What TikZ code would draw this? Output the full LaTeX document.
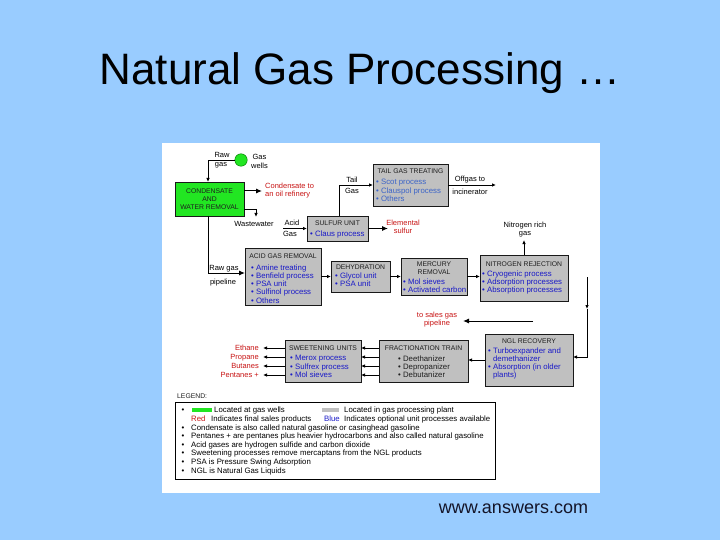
\documentclass[tikz,border=0pt]{standalone}
\usepackage{fontspec}
\setmainfont{Liberation Sans}
\usetikzlibrary{arrows.meta}
\definecolor{slidebg}{RGB}{153,204,255}
\definecolor{boxgray}{RGB}{192,192,192}
\definecolor{wellgreen}{RGB}{34,230,34}
\definecolor{prodred}{RGB}{200,20,20}
\definecolor{optblue}{RGB}{25,25,200}
\definecolor{lightblue}{RGB}{60,100,200}
\definecolor{titlegray}{RGB}{30,30,30}
\newcommand\itemfont{\fontsize{7.8}{8.3}\selectfont}
\newcommand\lblfont{\fontsize{7.5}{8.6}\selectfont}
\newcommand\boxtitlefont{\fontsize{6.8}{8}\selectfont}
\begin{document}
\begin{tikzpicture}[x=1pt,y=-1pt,
 box/.style={draw=black!90, fill=boxgray, line width=0.8pt, inner sep=0pt, outer sep=0pt},
 btitle/.style={font=\boxtitlefont, text=titlegray, inner sep=0pt, align=center},
 bitems/.style={font=\itemfont, text=optblue, inner sep=0pt, align=left, anchor=north west},
 lbl/.style={font=\lblfont, inner sep=0pt, align=center},
 redlbl/.style={lbl, text=prodred},
 leg/.style={font=\itemfont, inner sep=0pt, anchor=west, text height=5.5pt, text depth=1.5pt},
 conn/.style={line width=0.8pt, -{Latex[length=4pt,width=3.5pt]}},
 bigarr/.style={line width=1pt, -{Latex[length=6pt,width=5pt]}},
]
\useasboundingbox (0,0) rectangle (720,540);
\fill[slidebg] (0,0) rectangle (720,540);
\fill[white] (162,143) rectangle (600,493);

\node[font=\fontsize{44}{50}\selectfont, anchor=base, inner sep=0pt] (title) at (360,85) {Natural Gas Processing …};
\node[font=\fontsize{18}{20}\selectfont, anchor=base, inner sep=0pt, text={rgb,255:red,20;green,20;blue,40}] (src) at (513.5,513) {www.answers.com};

% wells
\node[circle, fill=wellgreen, draw=green!45!black, line width=0.4pt, minimum size=12.5pt, inner sep=0pt] (wells) at (241,160) {};
\node[lbl] (rawlbl) at (222,155) {Raw};
\node[lbl] (raw2lbl) at (221,165.5) {gas};
\node[lbl] (wellslbl) at (259.5,161.5) {Gas\\wells};

% boxes
\node[box, fill=wellgreen, minimum width=69pt, minimum height=34pt] (cwr) at (209.5,199) {};
\node[btitle] (cwrt) at (209.5,199) {CONDENSATE\\AND\\WATER REMOVAL};

\node[box, minimum width=75pt, minimum height=42pt] (tgt) at (410.5,185) {};
\node[btitle] (tgtt) at (410.5,171) {TAIL GAS TREATING};
\node[bitems, text=lightblue] (tgti) at (376,179.2) {• Scot process\\• Clauspol process\\• Others};

\node[box, minimum width=61pt, minimum height=25pt] (sru) at (337.5,228.5) {};
\node[btitle] (srut) at (337.5,223.5) {SULFUR UNIT};
\node[bitems] (srui) at (310,230.2) {• Claus process};

\node[box, minimum width=76pt, minimum height=57pt] (agr) at (283,276.5) {};
\node[btitle] (agrt) at (283,256) {ACID GAS REMOVAL};
\node[bitems] (agri) at (251,264.2) {• Amine treating\\• Benfield process\\• PSA unit\\• Sulfinol process\\• Others};

\node[box, minimum width=59pt, minimum height=31pt] (dehy) at (360.5,276.5) {};
\node[btitle] (dehyt) at (360.5,267) {DEHYDRATION};
\node[bitems] (dehyi) at (335,272.2) {• Glycol unit\\• PSA unit};

\node[box, minimum width=66pt, minimum height=37pt] (merc) at (434,276.5) {};
\node[btitle] (merct) at (434,268) {MERCURY\\REMOVAL};
\node[bitems] (merci) at (403,278.2) {• Mol sieves\\• Activated carbon};

\node[box, minimum width=88pt, minimum height=46pt] (nru) at (524,278) {};
\node[btitle] (nrut) at (524,264) {NITROGEN REJECTION};
\node[bitems] (nrui) at (482,270.2) {• Cryogenic process\\• Adsorption processes\\• Absorption processes};

\node[box, minimum width=88pt, minimum height=52pt] (ngl) at (529,360) {};
\node[btitle] (nglt) at (529,341) {NGL RECOVERY};
\node[bitems] (ngli) at (488,347.2) {• Turboexpander and\\\phantom{• }demethanizer\\• Absorption (in older\\\phantom{• }plants)};

\node[box, minimum width=89pt, minimum height=42pt] (frac) at (423.5,361) {};
\node[btitle] (fract) at (423.5,348) {FRACTIONATION TRAIN};
\node[bitems, text=titlegray] (fraci) at (398,355.2) {• Deethanizer\\• Depropanizer\\• Debutanizer};

\node[box, minimum width=76pt, minimum height=42pt] (sweet) at (323,361) {};
\node[btitle] (sweett) at (323,348) {SWEETENING UNITS};
\node[bitems] (sweeti) at (290,355.2) {• Merox process\\• Sulfrex process\\• Mol sieves};

% connectors
\coordinate (wcorner) at (208,160);
\draw[conn] (wells.west) -- (wcorner) -- (wcorner |- cwr.north);

\coordinate (condtip) at (262,191);
\draw[bigarr] (cwr.east |- condtip) -- (condtip);
\node[redlbl, anchor=west, align=left] (condlbl) at (265,190.5) {Condensate to\\an oil refinery};

\coordinate (wwcorner) at (256,209);
\coordinate (wwtip) at (256,217);
\draw[conn] (cwr.east |- wwcorner) -- (wwcorner) -- (wwtip);
\node[lbl] (wwlbl) at (254,224) {Wastewater};

\coordinate (rawcorner) at (208,273);
\draw[bigarr] (cwr.south -| rawcorner) -- (rawcorner) -- (agr.west |- rawcorner);
\node[lbl] (rp1) at (224,268.5) {Raw gas};
\node[lbl] (rp2) at (223,282.5) {pipeline};

\draw[conn] (agr.east) -- (dehy.west);
\draw[conn] (dehy.east) -- (merc.west);
\draw[conn] (merc.east) -- (merc.east -| nru.west);

\coordinate (n2tip) at (524,240);
\draw[conn] (nru.north) -- (n2tip);
\node[lbl] (n2lbl) at (525,229.5) {Nitrogen rich\\gas};

\coordinate (rtop) at (587,277);
\coordinate (rmid) at (587,309);
\coordinate (rbot) at (587,357);
\draw[conn] (rtop) -- (rmid);
\draw[conn] (rmid) -- (rbot) -- (ngl.east |- rbot);

\coordinate (salesstart) at (533,321);
\coordinate (salestip) at (463,321);
\draw[bigarr] (salesstart) -- (salestip);
\node[redlbl] (saleslbl) at (437,319.5) {to sales gas\\pipeline};

\draw[conn] (ngl.west) -- (ngl.west -| frac.east);

\foreach \yy/\nm/\tx in {348/e/Ethane,357/p/Propane,366/b/Butanes,375/n/Pentanes +}{
  \coordinate (fy\nm) at (400,\yy);
  \coordinate (ly\nm) at (263,\yy);
  \draw[conn] (frac.west |- fy\nm) -- (sweet.east |- fy\nm);
  \draw[conn] (sweet.west |- fy\nm) -- (ly\nm);
  \node[redlbl, anchor=east, text height=5.5pt, text depth=1.5pt] (prod\nm) at (259,\yy) {\tx};
}

\coordinate (acidstart) at (283,228.5);
\draw[conn] (acidstart) -- (sru.west |- acidstart);
\node[lbl] (acidlbl) at (292,222.5) {Acid};
\node[lbl] (acidlbl2) at (290,233.5) {Gas};

\coordinate (sulftip) at (388,228.5);
\draw[bigarr] (sru.east) -- (sulftip);
\node[redlbl] (sulflbl) at (403,227) {Elemental\\sulfur};

\coordinate (tailcorner) at (339,185);
\draw[conn] (sru.north -| tailcorner) -- (tailcorner) -- (tgt.west |- tailcorner);
\node[lbl] (taillbl) at (352,180) {Tail};
\node[lbl] (taillbl2) at (352,190.5) {Gas};

\coordinate (offtip) at (496,185);
\draw[conn] (tgt.east |- offtip) -- (offtip);
\node[lbl] (offlbl) at (470,179.5) {Offgas to};
\node[lbl] (offlbl2) at (470,191.5) {incinerator};

% legend
\node[font=\boxtitlefont, anchor=west, inner sep=0pt, text=titlegray] (legtitle) at (177,396) {LEGEND:};
\node[draw=black, line width=0.9pt, fill=white, minimum width=320pt, minimum height=77pt, inner sep=0pt] (legend) at (335,440.5) {};
\node[leg, anchor=center] (lb1) at (183,410) {•};
\node[fill=wellgreen, minimum width=20pt, minimum height=4pt, inner sep=0pt] (swg) at (202,410) {};
\node[leg] (lg1) at (214,410) {Located at gas wells};
\node[fill=boxgray, minimum width=17pt, minimum height=4pt, inner sep=0pt] (swy) at (330.5,410) {};
\node[leg] (lg2) at (344,410) {Located in gas processing plant};
\node[leg, text=prodred] (lred) at (191,419) {Red};
\node[leg] (lg3) at (211,419) {Indicates final sales products};
\node[leg, text=optblue] (lblue) at (324,419) {Blue};
\node[leg] (lg4) at (344,419) {Indicates optional unit processes available};
\foreach \yy/\nm/\tx in {428/a/Condensate is also called natural gasoline or casinghead gasoline,
  436.5/b/Pentanes + are pentanes plus heavier hydrocarbons and also called natural gasoline,
  445/c/Acid gases are hydrogen sulfide and carbon dioxide,
  453.5/d/Sweetening processes remove mercaptans from the NGL products,
  462/e/PSA is Pressure Swing Adsorption,
  471/f/NGL is Natural Gas Liquids}{
  \node[leg, anchor=center] (lbul\nm) at (183,\yy) {•};
  \node[leg] (ltxt\nm) at (191,\yy) {\tx};
}
\end{tikzpicture}
\end{document}
